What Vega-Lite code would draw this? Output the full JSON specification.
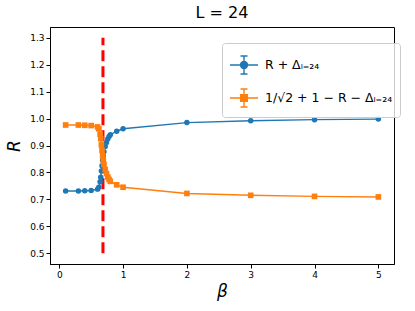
{
  "$schema": "https://vega.github.io/schema/vega-lite/v6.json",
  "autosize": {"type": "none"},
  "padding": {"left": 50, "top": 27, "right": 21, "bottom": 47},
  "width": 344,
  "height": 237,
  "config": {
    "font": "DejaVu Sans",
    "view": {"stroke": "#000", "strokeWidth": 1},
    "axis": {"grid": false, "domainColor": "#000", "tickColor": "#000", "labelColor": "#000", "titleColor": "#000", "labelFontSize": 9, "tickSize": 4, "labelPadding": 2, "labelOverlap": false, "titleFontSize": 17, "titleFontWeight": "normal", "titleFontStyle": "italic"}
  },
  "title": {"text": "L = 24", "fontSize": 16, "fontWeight": "normal", "fontStyle": "normal", "color": "#000", "anchor": "middle", "offset": 6},
  "datasets": {
    "pts": [
      {"beta": 0.1, "R": 0.731, "series": "R + Δₗ₌₂₄"},
      {"beta": 0.3, "R": 0.731, "series": "R + Δₗ₌₂₄"},
      {"beta": 0.4, "R": 0.732, "series": "R + Δₗ₌₂₄"},
      {"beta": 0.5, "R": 0.733, "series": "R + Δₗ₌₂₄"},
      {"beta": 0.6, "R": 0.738, "series": "R + Δₗ₌₂₄"},
      {"beta": 0.62, "R": 0.745, "series": "R + Δₗ₌₂₄"},
      {"beta": 0.64, "R": 0.765, "series": "R + Δₗ₌₂₄"},
      {"beta": 0.65, "R": 0.782, "series": "R + Δₗ₌₂₄"},
      {"beta": 0.66, "R": 0.805, "series": "R + Δₗ₌₂₄"},
      {"beta": 0.67, "R": 0.825, "series": "R + Δₗ₌₂₄"},
      {"beta": 0.68, "R": 0.845, "series": "R + Δₗ₌₂₄"},
      {"beta": 0.69, "R": 0.862, "series": "R + Δₗ₌₂₄"},
      {"beta": 0.7, "R": 0.877, "series": "R + Δₗ₌₂₄"},
      {"beta": 0.72, "R": 0.896, "series": "R + Δₗ₌₂₄"},
      {"beta": 0.74, "R": 0.911, "series": "R + Δₗ₌₂₄"},
      {"beta": 0.76, "R": 0.924, "series": "R + Δₗ₌₂₄"},
      {"beta": 0.78, "R": 0.933, "series": "R + Δₗ₌₂₄"},
      {"beta": 0.8, "R": 0.94, "series": "R + Δₗ₌₂₄"},
      {"beta": 0.9, "R": 0.953, "series": "R + Δₗ₌₂₄"},
      {"beta": 1.0, "R": 0.962, "series": "R + Δₗ₌₂₄"},
      {"beta": 2, "R": 0.985, "series": "R + Δₗ₌₂₄"},
      {"beta": 3, "R": 0.992, "series": "R + Δₗ₌₂₄"},
      {"beta": 4, "R": 0.996, "series": "R + Δₗ₌₂₄"},
      {"beta": 5, "R": 0.998, "series": "R + Δₗ₌₂₄"},
      {"beta": 0.1, "R": 0.976, "series": "1/√2 + 1 − R − Δₗ₌₂₄"},
      {"beta": 0.3, "R": 0.976, "series": "1/√2 + 1 − R − Δₗ₌₂₄"},
      {"beta": 0.4, "R": 0.975, "series": "1/√2 + 1 − R − Δₗ₌₂₄"},
      {"beta": 0.5, "R": 0.974, "series": "1/√2 + 1 − R − Δₗ₌₂₄"},
      {"beta": 0.6, "R": 0.969, "series": "1/√2 + 1 − R − Δₗ₌₂₄"},
      {"beta": 0.62, "R": 0.962, "series": "1/√2 + 1 − R − Δₗ₌₂₄"},
      {"beta": 0.64, "R": 0.942, "series": "1/√2 + 1 − R − Δₗ₌₂₄"},
      {"beta": 0.65, "R": 0.925, "series": "1/√2 + 1 − R − Δₗ₌₂₄"},
      {"beta": 0.66, "R": 0.902, "series": "1/√2 + 1 − R − Δₗ₌₂₄"},
      {"beta": 0.67, "R": 0.882, "series": "1/√2 + 1 − R − Δₗ₌₂₄"},
      {"beta": 0.68, "R": 0.862, "series": "1/√2 + 1 − R − Δₗ₌₂₄"},
      {"beta": 0.69, "R": 0.845, "series": "1/√2 + 1 − R − Δₗ₌₂₄"},
      {"beta": 0.7, "R": 0.83, "series": "1/√2 + 1 − R − Δₗ₌₂₄"},
      {"beta": 0.72, "R": 0.811, "series": "1/√2 + 1 − R − Δₗ₌₂₄"},
      {"beta": 0.74, "R": 0.796, "series": "1/√2 + 1 − R − Δₗ₌₂₄"},
      {"beta": 0.76, "R": 0.783, "series": "1/√2 + 1 − R − Δₗ₌₂₄"},
      {"beta": 0.78, "R": 0.774, "series": "1/√2 + 1 − R − Δₗ₌₂₄"},
      {"beta": 0.8, "R": 0.767, "series": "1/√2 + 1 − R − Δₗ₌₂₄"},
      {"beta": 0.9, "R": 0.754, "series": "1/√2 + 1 − R − Δₗ₌₂₄"},
      {"beta": 1.0, "R": 0.745, "series": "1/√2 + 1 − R − Δₗ₌₂₄"},
      {"beta": 2, "R": 0.722, "series": "1/√2 + 1 − R − Δₗ₌₂₄"},
      {"beta": 3, "R": 0.715, "series": "1/√2 + 1 − R − Δₗ₌₂₄"},
      {"beta": 4, "R": 0.711, "series": "1/√2 + 1 − R − Δₗ₌₂₄"},
      {"beta": 5, "R": 0.709, "series": "1/√2 + 1 − R − Δₗ₌₂₄"}
    ],
    "crit": [{"beta": 0.685, "R": 0.5, "R2": 1.3}]
  },
  "encoding": {
    "x": {"field": "beta", "type": "quantitative", "scale": {"domain": [-0.145, 5.245], "nice": false, "zero": false}, "axis": {"values": [0, 1, 2, 3, 4, 5], "format": "d", "title": "β", "titlePadding": 4}},
    "y": {"field": "R", "type": "quantitative", "scale": {"domain": [0.46, 1.34], "nice": false, "zero": false}, "axis": {"values": [0.5, 0.6, 0.7, 0.8, 0.9, 1.0, 1.1, 1.2, 1.3], "format": ".1f", "title": "R", "titlePadding": 6, "labelOverlap": false}}
  },
  "layer": [
    {
      "data": {"name": "crit"},
      "mark": {"type": "rule", "color": "#ff0000", "strokeWidth": 3, "strokeDash": [11, 5]},
      "encoding": {
        "y2": {"field": "R2"}
      }
    },
    {
      "data": {"name": "pts"},
      "mark": {"type": "line", "strokeWidth": 1.4},
      "encoding": {
        "color": {"field": "series", "type": "nominal", "scale": {"domain": ["R + Δₗ₌₂₄", "1/√2 + 1 − R − Δₗ₌₂₄"], "range": ["#1f77b4", "#ff7f0e"]},
          "legend": {"title": null, "orient": "none", "legendX": 172, "legendY": 16, "labelFontSize": 12.5, "labelColor": "#000", "symbolSize": 784, "symbolStrokeWidth": 1.4, "symbolOpacity": 1, "rowPadding": 6, "padding": 7, "strokeColor": "#cccccc", "fillColor": "rgba(255,255,255,0.8)", "cornerRadius": 3, "labelOffset": 6, "labelLimit": 300,
            "encode": {"symbols": {"update": {
              "shape": {"signal": "datum.value == 'R + Δₗ₌₂₄' ? 'M-1,0H1M0,-0.64V0.64M-0.25,-0.64H0.25M-0.25,0.64H0.25M0.25,0A0.25,0.25 0 1,1 -0.25,0A0.25,0.25 0 1,1 0.25,0Z' : 'M-1,0H1M0,-0.64V0.64M-0.25,-0.64H0.25M-0.25,0.64H0.25M-0.24,-0.24H0.24V0.24H-0.24Z'"},
              "fill": {"signal": "datum.value == 'R + Δₗ₌₂₄' ? '#1f77b4' : '#ff7f0e'"},
              "stroke": {"signal": "datum.value == 'R + Δₗ₌₂₄' ? '#1f77b4' : '#ff7f0e'"},
              "fillOpacity": {"value": 1},
              "strokeOpacity": {"value": 1}
            }}}
          }
        }
      }
    },
    {
      "data": {"name": "pts"},
      "transform": [{"filter": "datum.series == 'R + Δₗ₌₂₄'"}],
      "mark": {"type": "point", "filled": true, "opacity": 1, "size": 30, "shape": "circle"},
      "encoding": {
        "color": {"field": "series", "type": "nominal"}
      }
    },
    {
      "data": {"name": "pts"},
      "transform": [{"filter": "datum.series != 'R + Δₗ₌₂₄'"}],
      "mark": {"type": "point", "filled": true, "opacity": 1, "size": 32, "shape": "square"},
      "encoding": {
        "color": {"field": "series", "type": "nominal"}
      }
    }
  ]
}
